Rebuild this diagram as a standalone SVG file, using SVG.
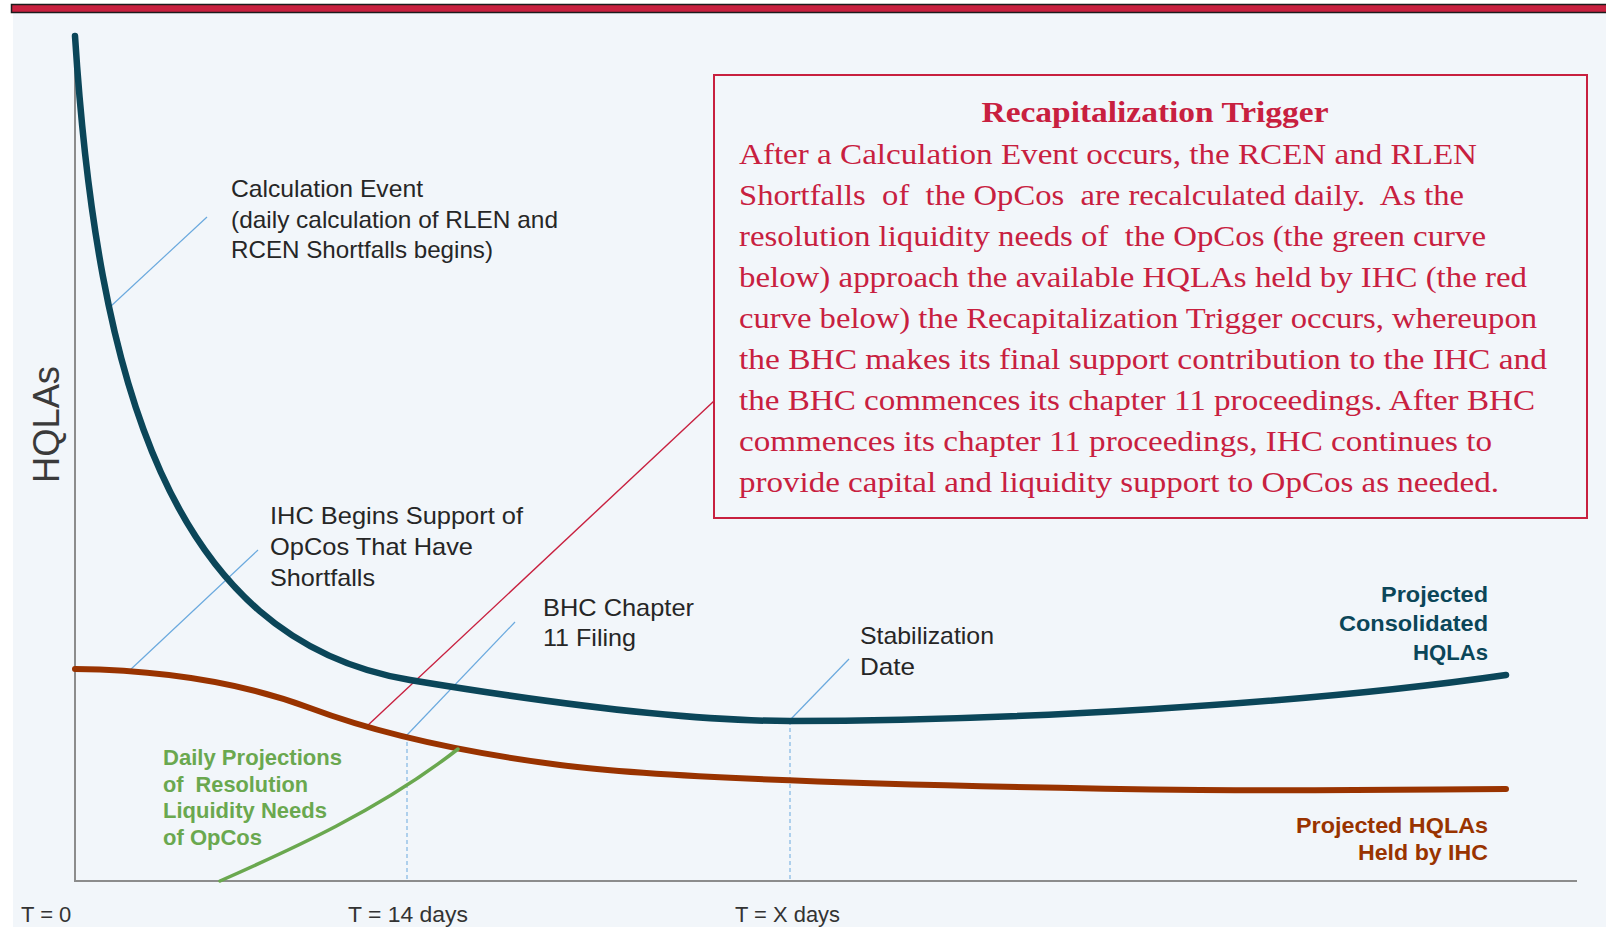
<svg xmlns="http://www.w3.org/2000/svg" width="1606" height="927" viewBox="0 0 1606 927">
  <style>
    .sans { font-family: "Liberation Sans", Arial, sans-serif; }
    .lbl { font-size: 24px; fill: #262626; }
    .axis-lbl { font-size: 22px; fill: #333333; }
    .bold { font-size: 21.5px; font-weight: bold; }
    .serif { font-family: "Liberation Serif", "Times New Roman", serif; fill: #c8203f; }
    .body { font-size: 29px; }
    .title { font-size: 29px; font-weight: bold; }
    .lead { stroke: #6aa9de; stroke-width: 1.2; fill: none; }
    .drop { stroke: #6aa9de; stroke-width: 1; stroke-dasharray: 4 3; fill: none; }
    .curve { fill: none; stroke-linecap: round; stroke-linejoin: round; }
  </style>

  <!-- page background and header rule -->
  <rect x="0" y="0" width="1606" height="927" fill="#ffffff"/>
  <rect x="13" y="13" width="1593" height="914" fill="#f2f6fa"/>
  <rect x="11.5" y="4.5" width="1600" height="8" fill="#c8203f" stroke="#1c1c1c" stroke-width="1.5"/>

  <!-- axes -->
  <g id="axes" stroke="#8c8c8c" stroke-width="2" fill="none">
    <path d="M75,40 V881 H1577"/>
  </g>
  <text class="sans" font-size="37" fill="#3a3a3a" text-anchor="middle" textLength="117" lengthAdjust="spacingAndGlyphs" transform="translate(59,424.5) rotate(-90)">HQLAs</text>

  <g id="axis-ticks" class="sans axis-lbl">
    <text x="21" y="922">T = 0</text>
    <text x="348" y="922" textLength="120" lengthAdjust="spacingAndGlyphs">T = 14 days</text>
    <text x="735" y="922" textLength="105" lengthAdjust="spacingAndGlyphs">T = X days</text>
  </g>

  <!-- connectors: leader lines, drop lines and trigger pointer -->
  <g id="connectors">
    <line class="lead" x1="110" y1="307" x2="207" y2="217"/>
    <line class="lead" x1="129" y1="671" x2="258" y2="550"/>
    <line class="lead" x1="407" y1="735" x2="515" y2="622"/>
    <line class="lead" x1="790" y1="720" x2="849" y2="659"/>
    <line class="drop" x1="407" y1="735" x2="407" y2="880"/>
    <line class="drop" x1="790" y1="721" x2="790" y2="880"/>
    <line x1="366" y1="727" x2="714" y2="401" stroke="#c8203f" stroke-width="1.4"/>
  </g>

  <!-- curves -->
  <g id="curve-ihc">
    <path class="curve" stroke="#993300" stroke-width="6"
      d="M75,669 C160,670 240,682 310,708 C350,723 430,748 560,765 C660,778 900,786 1200,790 C1350,791 1450,789 1506,789"/>
  </g>
  <g id="curve-consolidated">
    <path class="curve" stroke="#0b4659" stroke-width="6.5"
      d="M75,36 C97,380 170,640 410,680 C530,700 680,721 790,721 C1000,721 1300,705 1506,675"/>
  </g>
  <g id="curve-needs">
    <path class="curve" stroke="#6aa84f" stroke-width="3.5" d="M220,881 C290,850 380,810 458,749"/>
  </g>

  <!-- event labels -->
  <g id="calculation-event" class="sans lbl">
    <text x="231" y="197" textLength="192" lengthAdjust="spacingAndGlyphs">Calculation Event</text>
    <text x="231" y="228" textLength="327" lengthAdjust="spacingAndGlyphs">(daily calculation of RLEN and</text>
    <text x="231" y="258" textLength="262" lengthAdjust="spacingAndGlyphs">RCEN Shortfalls begins)</text>
  </g>
  <g id="ihc-support" class="sans lbl">
    <text x="270" y="524" textLength="253" lengthAdjust="spacingAndGlyphs">IHC Begins Support of</text>
    <text x="270" y="555" textLength="203" lengthAdjust="spacingAndGlyphs">OpCos That Have</text>
    <text x="270" y="586" textLength="105" lengthAdjust="spacingAndGlyphs">Shortfalls</text>
  </g>
  <g id="bhc-filing" class="sans lbl">
    <text x="543" y="616" textLength="151" lengthAdjust="spacingAndGlyphs">BHC Chapter</text>
    <text x="543" y="646" textLength="93" lengthAdjust="spacingAndGlyphs">11 Filing</text>
  </g>
  <g id="stabilization" class="sans lbl">
    <text x="860" y="644" textLength="134" lengthAdjust="spacingAndGlyphs">Stabilization</text>
    <text x="860" y="675" textLength="55" lengthAdjust="spacingAndGlyphs">Date</text>
  </g>

  <!-- curve legends -->
  <g id="needs-label" class="sans bold" fill="#6aa84f">
    <text x="163" y="765" textLength="179" lengthAdjust="spacingAndGlyphs">Daily Projections</text>
    <text x="163" y="792" textLength="145" lengthAdjust="spacingAndGlyphs">of&#160; Resolution</text>
    <text x="163" y="818" textLength="164" lengthAdjust="spacingAndGlyphs">Liquidity Needs</text>
    <text x="163" y="845" textLength="99" lengthAdjust="spacingAndGlyphs">of OpCos</text>
  </g>
  <g id="consolidated-label" class="sans bold" fill="#0b4659" text-anchor="end">
    <text x="1488" y="602" textLength="107" lengthAdjust="spacingAndGlyphs">Projected</text>
    <text x="1488" y="631" textLength="149" lengthAdjust="spacingAndGlyphs">Consolidated</text>
    <text x="1488" y="660" textLength="75" lengthAdjust="spacingAndGlyphs">HQLAs</text>
  </g>
  <g id="ihc-label" class="sans bold" fill="#993300" text-anchor="end">
    <text x="1488" y="833" textLength="192" lengthAdjust="spacingAndGlyphs">Projected HQLAs</text>
    <text x="1488" y="860" textLength="130" lengthAdjust="spacingAndGlyphs">Held by IHC</text>
  </g>

  <!-- recapitalization trigger note -->
  <g id="recap-trigger">
    <rect x="714" y="75" width="873" height="443" fill="none" stroke="#c8203f" stroke-width="2"/>
    <text class="serif title" x="1155" y="122" text-anchor="middle" textLength="347" lengthAdjust="spacingAndGlyphs">Recapitalization Trigger</text>
    <g class="serif body">
      <text x="739" y="164" textLength="738" lengthAdjust="spacingAndGlyphs">After a Calculation Event occurs, the RCEN and RLEN</text>
      <text x="739" y="205" textLength="725" lengthAdjust="spacingAndGlyphs">Shortfalls&#160; of&#160; the OpCos&#160; are recalculated daily.&#160; As the</text>
      <text x="739" y="246" textLength="747" lengthAdjust="spacingAndGlyphs">resolution liquidity needs of&#160; the OpCos (the green curve</text>
      <text x="739" y="287" textLength="788" lengthAdjust="spacingAndGlyphs">below) approach the available HQLAs held by IHC (the red</text>
      <text x="739" y="328" textLength="798" lengthAdjust="spacingAndGlyphs">curve below) the Recapitalization Trigger occurs, whereupon</text>
      <text x="739" y="369" textLength="808" lengthAdjust="spacingAndGlyphs">the BHC makes its final support contribution to the IHC and</text>
      <text x="739" y="410" textLength="796" lengthAdjust="spacingAndGlyphs">the BHC commences its chapter 11 proceedings. After BHC</text>
      <text x="739" y="451" textLength="753" lengthAdjust="spacingAndGlyphs">commences its chapter 11 proceedings, IHC continues to</text>
      <text x="739" y="492" textLength="760" lengthAdjust="spacingAndGlyphs">provide capital and liquidity support to OpCos as needed.</text>
    </g>
  </g>
</svg>
